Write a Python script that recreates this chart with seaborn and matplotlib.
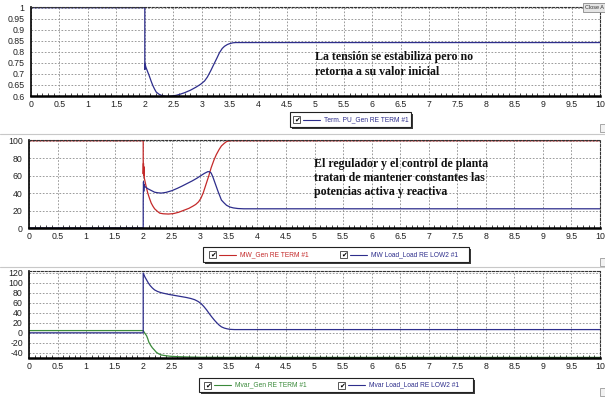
import matplotlib
matplotlib.use("Agg")
import matplotlib.pyplot as plt
from matplotlib.patches import Rectangle
from matplotlib.lines import Line2D
from matplotlib.ticker import FuncFormatter, MultipleLocator
import numpy as np
import pandas as pd
import seaborn as sns

# ---- series data (time in s) ----
t_volt = [0, 2.0, 2.0, 2.005, 2.02, 2.05, 2.08, 2.11, 2.14, 2.17, 2.2, 2.25, 2.3, 2.38,
          2.45, 2.55, 2.62, 2.7, 2.8, 2.9, 2.98, 3.05, 3.1, 3.16, 3.22, 3.27, 3.31, 3.36,
          3.4, 3.45, 3.49, 3.55, 3.6, 10]
volt_pu = [1.0, 1.0, 0.72, 0.745, 0.73, 0.71, 0.69, 0.668, 0.648, 0.632, 0.618, 0.608,
           0.602, 0.598, 0.599, 0.603, 0.608, 0.615, 0.626, 0.64, 0.653, 0.668, 0.686,
           0.715, 0.747, 0.773, 0.795, 0.815, 0.825, 0.833, 0.837, 0.841, 0.842, 0.842]

t_mw_gen = [0, 2.0, 2.0, 2.005, 2.01, 2.015, 2.02, 2.05, 2.08, 2.11, 2.14, 2.17, 2.2, 2.25,
            2.29, 2.35, 2.44, 2.53, 2.62, 2.7, 2.8, 2.87, 2.92, 2.97, 3.01, 3.05, 3.1, 3.15,
            3.19, 3.24, 3.28, 3.33, 3.37, 3.42, 3.46, 3.52, 3.58, 10]
mw_gen = [100, 100, 62, 74, 60, 70, 57, 48, 40, 34, 28.6, 25, 22, 19, 17, 16.3, 16, 16.5,
          18, 20, 22.5, 25, 27, 30, 34, 40, 50, 60, 69, 78, 84, 90, 94, 97, 99, 100, 100, 100]

t_mw_load = [0, 2.0, 2.0, 2.005, 2.01, 2.015, 2.02, 2.05, 2.08, 2.14, 2.2, 2.26, 2.32, 2.4,
             2.5, 2.6, 2.68, 2.77, 2.86, 2.94, 3.01, 3.07, 3.13, 3.16, 3.19, 3.22, 3.25,
             3.28, 3.31, 3.34, 3.37, 3.42, 3.46, 3.52, 3.58, 3.66, 3.76, 10]
mw_load = [0, 0, 30, 53, 42, 50, 48, 46.5, 45, 43, 41, 40.3, 40, 40.8, 42.7, 45.5, 48, 51,
           54, 57, 60, 62.5, 64.5, 64.5, 63, 58.5, 53, 47.5, 42, 37, 32, 28.5, 26, 24, 23,
           22.3, 22, 22]

t_mvar_load = [0, 2.0, 2.0, 2.03, 2.06, 2.09, 2.12, 2.16, 2.2, 2.25, 2.3, 2.35, 2.45, 2.55,
               2.65, 2.75, 2.83, 2.9, 2.96, 3.01, 3.06, 3.11, 3.16, 3.2, 3.25, 3.29, 3.33,
               3.37, 3.42, 3.47, 3.52, 3.6, 10]
mvar_load = [0, 0, 120, 112, 106, 100, 95, 90, 86, 83, 81, 79.5, 77, 75, 73, 71, 69, 66.5,
             63, 59, 53, 46, 38, 32, 25, 20, 15.5, 12, 9.5, 8, 7, 6.5, 6.5]

t_mvar_gen = [0, 2.0, 2.01, 2.03, 2.06, 2.08, 2.1, 2.13, 2.16, 2.2, 2.23, 2.27, 2.32, 2.4,
              2.47, 2.6, 2.76, 3.0, 3.5, 10]
mvar_gen = [4.5, 4.5, 2.5, -1, -6, -12, -19, -25, -30, -35, -39, -42, -44.5, -46, -47,
            -47.8, -48.4, -49, -49.3, -49.3]

x_ticks = [0, 0.5, 1, 1.5, 2, 2.5, 3, 3.5, 4, 4.5, 5, 5.5, 6, 6.5, 7, 7.5, 8, 8.5, 9, 9.5, 10]
y1_ticks = [0.6, 0.65, 0.7, 0.75, 0.8, 0.85, 0.9, 0.95, 1.0]
y2_ticks = [0, 20, 40, 60, 80, 100]
y3_ticks = [-40, -20, 0, 20, 40, 60, 80, 100, 120]

label_volt = "Term. PU_Gen RE TERM #1"
label_mw_gen = "MW_Gen RE TERM #1"
label_mw_load = "MW Load_Load RE LOW2 #1"
label_mvar_gen = "Mvar_Gen RE TERM #1"
label_mvar_load = "Mvar Load_Load RE LOW2 #1"

note_1 = "La tensión se estabiliza pero no\nretorna a su valor inicial"
note_2 = ("El regulador y el control de planta\ntratan de mantener constantes las\n"
          "potencias activa y reactiva")

NAVY = "#2e2e8c"
RED = "#c42a2a"
GREEN = "#3a8a3a"

sns.set_style("white")
plt.rcParams["font.family"] = ["Liberation Sans", "DejaVu Sans"]

W, H = 605, 397
fig = plt.figure(figsize=(W / 100, H / 100), dpi=100)
fig.patch.set_facecolor("white")


def px_axes(left, top, right, bottom):
    return [left / W, 1 - bottom / H, (right - left) / W, (bottom - top) / H]


fmt = FuncFormatter(lambda v, _: f"{v:g}")


def style_axes(ax, yticks, ylim):
    ax.set_xlim(0, 10)
    ax.set_ylim(*ylim)
    ax.set_xticks(x_ticks)
    ax.set_yticks(yticks)
    ax.xaxis.set_major_formatter(fmt)
    ax.yaxis.set_major_formatter(fmt)
    ax.xaxis.set_minor_locator(MultipleLocator(0.1))
    ax.grid(True, which="major", color="#8a8a8a", linestyle=(0, (2, 2)), linewidth=0.6)
    ax.tick_params(axis="both", which="major", labelsize=6.3, colors="#222222",
                   length=2.5, width=0.6, pad=2)
    ax.tick_params(axis="x", which="major", direction="inout", length=3, pad=1.5)
    ax.tick_params(axis="x", which="minor", direction="in", length=2, width=0.6,
                   bottom=True)
    for side in ("top", "right"):
        ax.spines[side].set_linestyle((0, (2, 1.5)))
        ax.spines[side].set_color("#333333")
        ax.spines[side].set_linewidth(0.8)
    ax.spines["left"].set_color("black")
    ax.spines["left"].set_linewidth(1.2)
    ax.spines["bottom"].set_color("black")
    ax.spines["bottom"].set_linewidth(1.8)
    ax.set_xlabel("")
    ax.set_ylabel("")


def draw(ax, t, y, color):
    df = pd.DataFrame({"t": t, "y": y})
    sns.lineplot(data=df, x="t", y="y", ax=ax, color=color, linewidth=0.9,
                 estimator=None, sort=False, legend=False)


ax1 = fig.add_axes(px_axes(31, 7, 600, 96))
draw(ax1, t_volt, volt_pu, NAVY)
style_axes(ax1, y1_ticks, (0.6, 1.003))

ax2 = fig.add_axes(px_axes(29, 140, 600, 228))
draw(ax2, t_mw_gen, mw_gen, RED)
draw(ax2, t_mw_load, mw_load, NAVY)
style_axes(ax2, y2_ticks, (0, 100.8))

ax3 = fig.add_axes(px_axes(29, 271, 600, 358))
draw(ax3, t_mvar_gen, mvar_gen, GREEN)
draw(ax3, t_mvar_load, mvar_load, NAVY)
style_axes(ax3, y3_ticks, (-50.5, 124))

serif = ["Liberation Serif", "DejaVu Serif"]
fig.text(315 / W, 1 - 51 / H, note_1, family=serif, fontweight="bold", fontsize=8.6,
         va="top", ha="left", color="#111111", linespacing=1.3)
fig.text(314 / W, 1 - 158 / H, note_2, family=serif, fontweight="bold", fontsize=8.6,
         va="top", ha="left", color="#111111", linespacing=1.2)


def fig_rect(x0, y0, x1, y1, **kw):
    fig.add_artist(Rectangle((x0 / W, 1 - y1 / H), (x1 - x0) / W, (y1 - y0) / H,
                             transform=fig.transFigure, **kw))


def fig_line(x0, x1, y, **kw):
    fig.add_artist(Line2D([x0 / W, x1 / W], [1 - y / H, 1 - y / H],
                          transform=fig.transFigure, **kw))


def checkbox(x, yc):
    fig_rect(x, yc - 3.5, x + 7, yc + 3.5, facecolor="white", edgecolor="#555555",
             linewidth=0.7)
    fig.text((x + 3.7) / W, 1 - (yc + 0.3) / H, "\u2714", fontsize=5, ha="center",
             va="center", color="black", family=["DejaVu Sans"])


def legend_box(x0, y0, x1, y1, items):
    fig_rect(x0 + 2, y0 + 2, x1 + 2, y1 + 2, facecolor="#3a3a3a", edgecolor="none")
    fig_rect(x0, y0, x1, y1, facecolor="white", edgecolor="#222222", linewidth=0.8)
    yc = (y0 + y1) / 2
    for xs, label, color in items:
        checkbox(xs, yc)
        fig_line(xs + 10, xs + 27, yc, color=color, linewidth=0.8)
        fig.text((xs + 31) / W, 1 - yc / H, label, fontsize=4.8, ha="left",
                 va="center", color=color)


legend_box(290, 112, 411, 127, [(293, label_volt, NAVY)])
legend_box(203, 247, 469, 262, [(209, label_mw_gen, RED), (340, label_mw_load, NAVY)])
legend_box(199, 378, 473, 392, [(204, label_mvar_gen, GREEN),
                                (338, label_mvar_load, NAVY)])

# window separators and small frame widgets
fig_line(0, 605, 134, color="#c8c8c8", linewidth=0.8)
fig_line(0, 605, 267, color="#c8c8c8", linewidth=0.8)
fig_rect(583, 3, 606, 12, facecolor="#e4e4e4", edgecolor="#888888", linewidth=0.6)
fig.text(585 / W, 1 - 7.5 / H, "Close A", fontsize=4, va="center", ha="left",
         color="#333333")
for yb in (128, 262, 392):
    fig_rect(600, yb - 4, 606, yb + 4, facecolor="#f2f2f2", edgecolor="#999999",
             linewidth=0.6)

fig.savefig("out.png", dpi=100)
